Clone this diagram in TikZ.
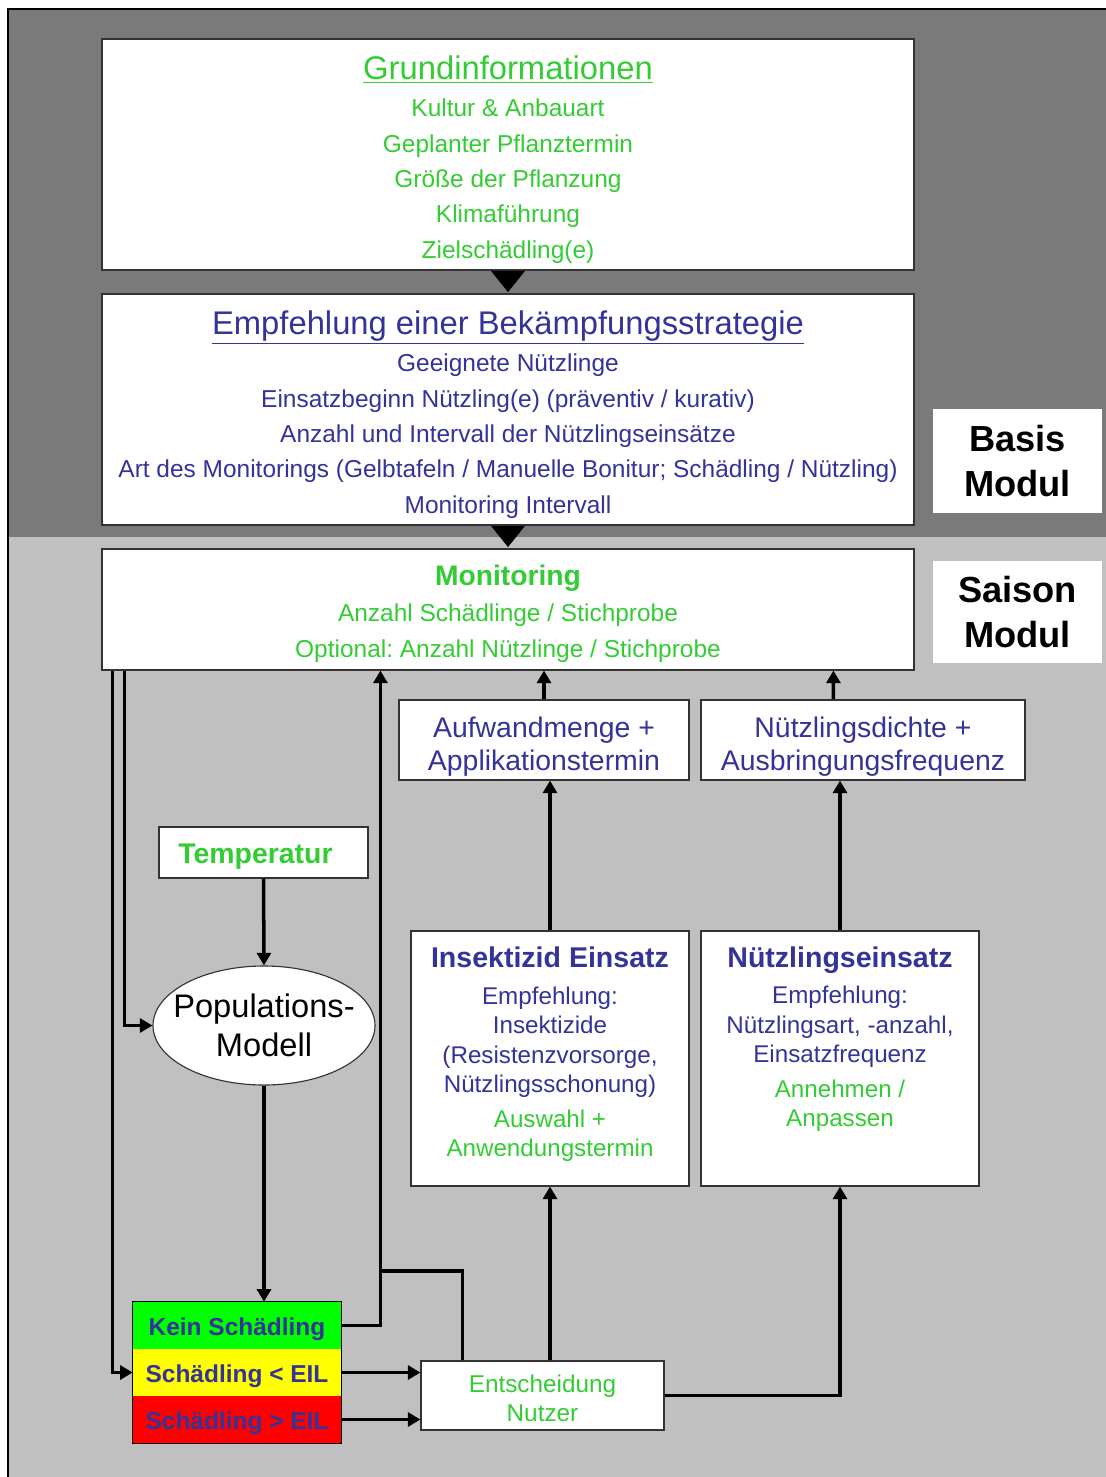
\documentclass[tikz,border=0pt]{standalone}
\usepackage{fontspec}
\setmainfont{Liberation Sans}
\usepackage{tikz}
\usetikzlibrary{arrows.meta,shapes.geometric,calc}
\definecolor{gruen}{RGB}{51,204,51}
\definecolor{blau}{RGB}{51,51,153}
\definecolor{dunkelgrau}{RGB}{122,122,122}
\definecolor{hellgrau}{RGB}{192,192,192}
\definecolor{ampelgruen}{RGB}{0,255,0}
\definecolor{ampelgelb}{RGB}{255,255,0}
\definecolor{ampelrot}{RGB}{255,0,0}
\newcommand{\titelfont}{\fontsize{23.3}{28}\selectfont}
\newcommand{\zeilenfont}{\fontsize{17.4}{25.1}\selectfont}
\newcommand{\mittelfont}{\fontsize{20.2}{23.5}\selectfont}
\newcommand{\modulfont}{\fontsize{25.8}{31.7}\selectfont\bfseries}
\newcommand{\hoch}[1]{\rule{0pt}{#1}}
\newcommand{\tief}[1]{\rule[-#1]{0pt}{0pt}}
\frenchspacing

\begin{document}
\begin{tikzpicture}[x=0.25mm, y=-0.25mm,
	box/.style={draw=black!80, line width=0.8pt, fill=white, align=center, inner sep=0pt},
	modulbox/.style={fill=white, align=center, inner sep=0pt, font=\modulfont},
	ampel/.style={inner sep=0pt, minimum width=52mm, minimum height=11.75mm, text height=18.4pt, text depth=3.65pt, text=blau, font=\fontsize{17.4}{20}\selectfont\bfseries},
	conn/.style={line width=2.5pt, -{Triangle[length=9pt,width=10pt]}},
	leitung/.style={line width=2.5pt},
	bigtip/.style={line width=0.4pt, shorten >=1pt, -{Triangle[length=15pt,width=24pt]}}]
	\useasboundingbox (0,0) rectangle (1106,1477);

	% background
	\fill[dunkelgrau] (8,9) rectangle (1106,537);
	\fill[hellgrau] (8,537) rectangle (1106,1477);
	\draw[line width=1.2pt] (8,1477) -- (8,9) -- (1106,9);

	% basis modul
	\node[box, minimum width=203mm, minimum height=57.75mm, text=gruen, font=\zeilenfont] (grund) at (508,154.5)
		{\hoch{24.3pt}{\titelfont\underline{Grundinformationen}}\\[1.2pt]
		Kultur \& Anbauart\\ Geplanter Pflanztermin\\ Größe der Pflanzung\\ Klimaführung\\ Zielschädling(e)};
	\node[box, minimum width=203mm, minimum height=57.75mm, text=blau, font=\zeilenfont] (empf) at (508,409.5)
		{\hoch{24.3pt}{\titelfont\underline{Empfehlung einer Bekämpfungsstrategie}}\\[1.2pt]
		Geeignete Nützlinge\\ Einsatzbeginn Nützling(e) (präventiv / kurativ)\\
		Anzahl und Intervall der Nützlingseinsätze\\
		Art des Monitorings (Gelbtafeln / Manuelle Bonitur; Schädling / Nützling)\\
		Monitoring Intervall};
	\node[modulbox, minimum width=42.25mm, minimum height=26mm] (basis) at (1017.5,461) {Basis\\Modul};

	% saison modul
	\node[box, minimum width=203mm, minimum height=30.25mm, text=gruen, font=\fontsize{17.4}{25.6}\selectfont] (monit) at (508,609.5)
		{\hoch{20.4pt}{\fontsize{20.1}{24}\selectfont\bfseries Monitoring}\\
		Anzahl Schädlinge / Stichprobe\\ Optional: Anzahl Nützlinge / Stichprobe};
	\node[modulbox, minimum width=42.25mm, minimum height=25.5mm] (saison) at (1017.5,612) {Saison\\Modul};
	\draw[bigtip] (grund.south) -- (empf.north);
	\draw[bigtip] (empf.south) -- (monit.north);

	\node[box, minimum width=72.5mm, minimum height=20mm, text=blau, font=\mittelfont] (aufw) at (544,740)
		{\hoch{24.7pt}Aufwandmenge +\\Applikationstermin};
	\node[box, minimum width=81mm, minimum height=20mm, text=blau, font=\mittelfont] (dichte) at (863,740)
		{\hoch{24.7pt}Nützlingsdichte +\\Ausbringungsfrequenz};
	\node[box, minimum width=52.25mm, minimum height=12.75mm, text height=20.2pt, text depth=4.3pt, text=gruen, font=\mittelfont\bfseries] (temp) at (263.5,852.5)
		{\hspace*{-4mm}Temperatur};
	\node[box, ellipse, minimum width=55.5mm, minimum height=29.75mm] (popmod) at (264,1025.5) {};
	\node[align=center, font=\fontsize{23.2}{27.7}\selectfont] (popmodtxt) at (popmod.center) {Populations-\\Modell};

	\node[box, minimum width=69.5mm, minimum height=63.75mm, text=blau, font=\fontsize{17.2}{20.9}\selectfont] (insekt) at (550,1058.5)
		{{\fontsize{20.3}{24}\selectfont\bfseries Insektizid Einsatz}\\[5.1pt]
		Empfehlung:\\ Insektizide\\ (Resistenzvorsorge,\\ Nützlingsschonung)\\[4pt]
		\textcolor{gruen}{Auswahl +}\\ \textcolor{gruen}{Anwendungstermin}\tief{9.3pt}};
	\node[box, minimum width=69.5mm, minimum height=63.75mm, text=blau, font=\fontsize{17.2}{20.9}\selectfont] (nuetz) at (840,1058.5)
		{{\fontsize{20.3}{24}\selectfont\bfseries Nützlingseinsatz}\\[5.1pt]
		Empfehlung:\\ Nützlingsart, -anzahl,\\ Einsatzfrequenz\\[4pt]
		\textcolor{gruen}{Annehmen /}\\ \textcolor{gruen}{Anpassen}\\ \tief{10pt}};

	% ampel
	\node[ampel, fill=ampelgruen] (kein) at (237,1325.5) {Kein Schädling};
	\node[ampel, fill=ampelgelb] (klein) at (237,1372.5) {Schädling < EIL};
	\node[ampel, fill=ampelrot] (gross) at (237,1419.5) {Schädling > EIL};
	\draw[line width=0.8pt] (kein.north west) rectangle (gross.south east);

	\node[box, minimum width=60.75mm, minimum height=17.25mm, text=gruen, font=\fontsize{17.3}{20.6}\selectfont] (entsch) at (542.5,1395.5)
		{\hoch{16.9pt}Entscheidung\\Nutzer};

	% arrows
	\draw[conn] ($(monit.south west)+(11,0)$) |- (klein.west);
	\draw[conn] ($(monit.south west)+(23,0)$) |- (popmod.west);
	\draw[conn] (temp.south) -- (popmod.north);
	\draw[conn] (popmod.south) -- (popmod.south |- kein.north);
	\draw[conn] (kein.east) -| ($(monit.south west)+(279,0)$);
	\coordinate (rueck) at (381,1271);
	\draw[leitung] ($(entsch.north west)+(42,0)$) |- (rueck);
	\draw[conn] (klein.east) -- (klein.east -| entsch.west);
	\draw[conn] (gross.east) -- (gross.east -| entsch.west);
	\draw[conn] (insekt.south |- entsch.north) -- (insekt.south);
	\draw[conn] (entsch.east) -| (nuetz.south);
	\draw[conn] (insekt.north) -- (insekt.north |- aufw.south);
	\draw[conn] (nuetz.north) -- (nuetz.north |- dichte.south);
	\draw[conn] (aufw.north) -- (aufw.north |- monit.south);
	\draw[conn] ($(dichte.north west)+(133,0)$) -- ($(monit.south west)+(732,0)$);

\end{tikzpicture}
\end{document}
